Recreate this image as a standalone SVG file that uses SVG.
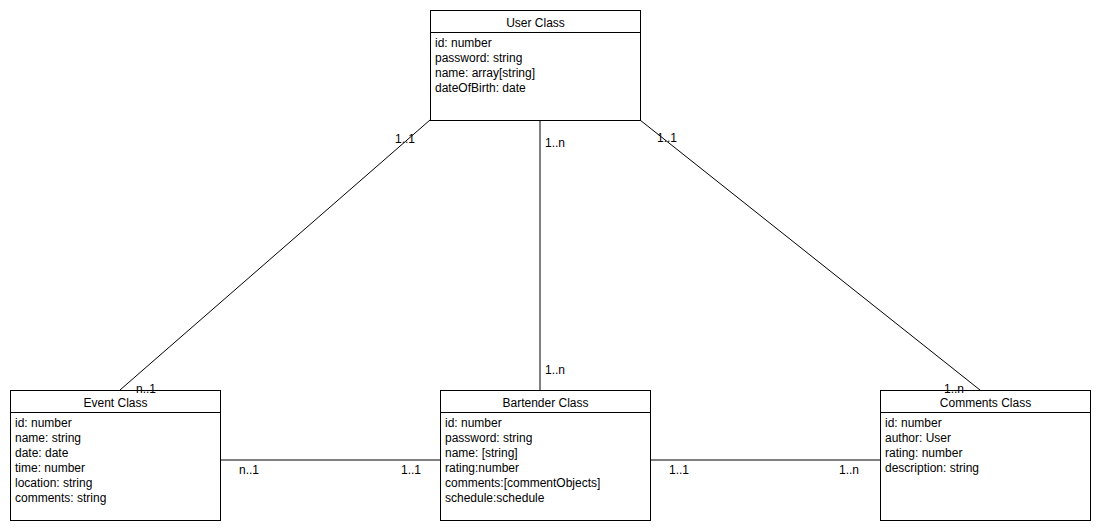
<svg xmlns="http://www.w3.org/2000/svg" width="1100" height="530" viewBox="0 0 1100 530">
  <style>
    .box { fill: #ffffff; stroke: #000000; stroke-width: 1; }
    .sep { stroke: #000000; stroke-width: 1; }
    .edge { stroke: #000000; stroke-width: 1; fill: none; }
    text { font-family: "Liberation Sans", Arial, Helvetica, sans-serif; font-size: 12px; fill: #000000; }
    .title { text-anchor: middle; }
  </style>
  <rect width="1100" height="530" fill="#ffffff"/>

  <g id="user-class">
    <rect class="box" x="430.5" y="10.5" width="210" height="110"/>
    <line class="sep" x1="430.5" y1="32.5" x2="640.5" y2="32.5"/>
    <text class="title" x="535.5" y="27">User Class</text>
    <text x="435" y="47">id: number</text>
    <text x="435" y="62">password: string</text>
    <text x="435" y="77">name: array[string]</text>
    <text x="435" y="92">dateOfBirth: date</text>
  </g>

  <g id="event-class">
    <rect class="box" x="10.5" y="390.5" width="210" height="130"/>
    <line class="sep" x1="10.5" y1="412.5" x2="220.5" y2="412.5"/>
    <text class="title" x="115.5" y="407">Event Class</text>
    <text x="15" y="427">id: number</text>
    <text x="15" y="442">name: string</text>
    <text x="15" y="457">date: date</text>
    <text x="15" y="472">time: number</text>
    <text x="15" y="487">location: string</text>
    <text x="15" y="502">comments: string</text>
  </g>

  <g id="bartender-class">
    <rect class="box" x="440.5" y="390.5" width="210" height="130"/>
    <line class="sep" x1="440.5" y1="412.5" x2="650.5" y2="412.5"/>
    <text class="title" x="545.5" y="407">Bartender Class</text>
    <text x="445" y="427">id: number</text>
    <text x="445" y="442">password: string</text>
    <text x="445" y="457">name: [string]</text>
    <text x="445" y="472">rating:number</text>
    <text x="445" y="487">comments:[commentObjects]</text>
    <text x="445" y="502">schedule:schedule</text>
  </g>

  <g id="comments-class">
    <rect class="box" x="880.5" y="390.5" width="210" height="130"/>
    <line class="sep" x1="880.5" y1="412.5" x2="1090.5" y2="412.5"/>
    <text class="title" x="985.5" y="407">Comments Class</text>
    <text x="885" y="427">id: number</text>
    <text x="885" y="442">author: User</text>
    <text x="885" y="457">rating: number</text>
    <text x="885" y="472">description: string</text>
  </g>

  <!-- associations with multiplicity labels, drawn over the boxes -->
  <g id="connectors">
    <line class="edge" x1="430" y1="120" x2="120" y2="390"/>
    <line class="edge" x1="540" y1="120" x2="540" y2="390"/>
    <line class="edge" x1="640" y1="120" x2="980" y2="390"/>
    <line class="edge" x1="220" y1="460" x2="440" y2="460"/>
    <line class="edge" x1="650" y1="460" x2="880" y2="460"/>
    <text x="395" y="143">1..1</text>
    <text x="545" y="147">1..n</text>
    <text x="657" y="142">1..1</text>
    <text x="545" y="374">1..n</text>
    <text x="136" y="393">n..1</text>
    <text x="944" y="393">1..n</text>
    <text x="239" y="474">n..1</text>
    <text x="401" y="474">1..1</text>
    <text x="669" y="474">1..1</text>
    <text x="839" y="474">1..n</text>
  </g>
</svg>
